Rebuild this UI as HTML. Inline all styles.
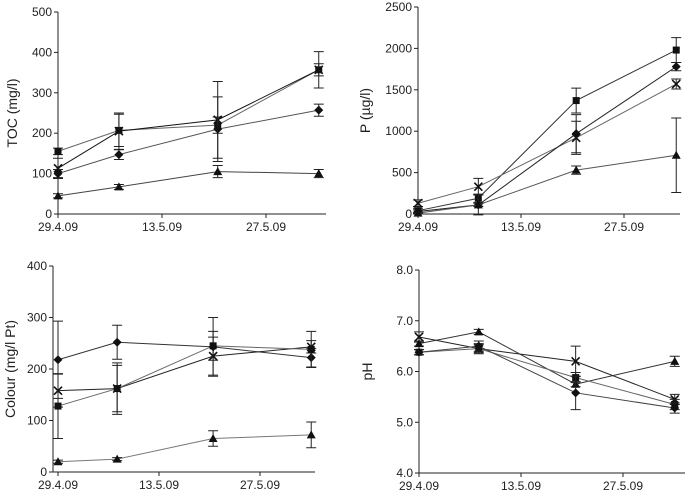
<!DOCTYPE html>
<html><head><meta charset="utf-8">
<style>
html,body{margin:0;padding:0;background:#fff;}
svg{display:block;font-family:"Liberation Sans",Arial,sans-serif;}
</style></head>
<body>
<svg id="chart" width="685" height="498" viewBox="0 0 685 498" xmlns="http://www.w3.org/2000/svg"></svg>
<script>
// shared sampling days (offset from 29.4.09)
const sampleDays = [0, 8.2, 21.5, 35.1];
const xTickLabels = ["29.4.09", "13.5.09", "27.5.09"];
const xTickDays = [0, 14, 28];

// TOC
const tocSquare = [155, 207, 220, 357];
const tocCross = [113, 205, 233, 357];
const tocDiamond = [100, 147, 210, 257];
const tocTriangle = [45, 67, 105, 100];
const tocSquareErr = [8, 40, 20, 45];
const tocCrossErr = [25, 45, 95, 15];
const tocDiamondErr = [10, 12, 80, 15];
const tocTriangleErr = [5, 6, 15, 10];
const tocTicks = [0, 100, 200, 300, 400, 500];

// P
const pSquare = [40, 190, 1370, 1980];
const pCross = [130, 330, 920, 1570];
const pDiamond = [30, 110, 970, 1780];
const pTriangle = [10, 110, 530, 710];
const pSquareErr = [30, 50, 150, 150];
const pCrossErr = [40, 100, 200, 60];
const pDiamondErr = [20, 120, 230, 50];
const pTriangleErr = [10, 20, 50, 450];
const pTicks = [0, 500, 1000, 1500, 2000, 2500];

// Colour
const colDiamond = [218, 252, 243, 222];
const colCross = [158, 162, 225, 243];
const colSquare = [128, 162, 245, 238];
const colTriangle = [20, 25, 65, 72];
const colDiamondErr = [75, 33, 57, 18];
const colCrossErr = [32, 50, 37, 12];
const colSquareErr = [63, 45, 28, 35];
const colTriangleErr = [3, 3, 15, 25];
const colTicks = [0, 100, 200, 300, 400];

// pH
const phCross = [6.68, 6.45, 6.2, 5.45];
const phTriangle = [6.55, 6.78, 5.75, 6.2];
const phSquare = [6.38, 6.45, 5.88, 5.35];
const phDiamond = [6.38, 6.5, 5.58, 5.28];
const phCrossErr = [0.1, 0.1, 0.3, 0.1];
const phTriangleErr = [0.05, 0.05, 0.05, 0.1];
const phSquareErr = [0.05, 0.08, 0.1, 0.1];
const phDiamondErr = [0.05, 0.1, 0.33, 0.1];
const phTicks = [4.0, 5.0, 6.0, 7.0, 8.0];

const svg = document.getElementById('chart');
const NS = 'http://www.w3.org/2000/svg';
function mk(tag, attrs, parent){
  const e = document.createElementNS(NS, tag);
  for (const k in attrs) e.setAttribute(k, attrs[k]);
  (parent || svg).appendChild(e);
  return e;
}

function panel(cfg){
  const g = mk('g', {});
  
  
  const xs = d => cfg.x0 + d * cfg.dayPx;
  const ys = v => cfg.yBot - (v - cfg.yMin) / (cfg.yMax - cfg.yMin) * (cfg.yBot - cfg.yTop);
  // axes
  const ya = mk('line', {x1: cfg.axX, y1: cfg.yTop, x2: cfg.axX, y2: cfg.yBot, stroke: '#222', 'stroke-width': 1}, g);
  
  
  const xa = mk('line', {x1: cfg.axX, y1: cfg.yBot, x2: cfg.xEnd, y2: cfg.yBot, stroke: '#222', 'stroke-width': 1}, g);
  
  
  cfg.ticks.forEach(t => {
    const y = ys(t);
    mk('line', {x1: cfg.axX - 4, y1: y, x2: cfg.axX, y2: y, stroke: '#222'}, g);
    const tx = mk('text', {x: cfg.axX - 6, y: y + 4, 'text-anchor': 'end', 'font-size': 12, fill: '#222'}, g);
    tx.textContent = cfg.dec ? t.toFixed(1) : t;
    
    
  });
  xTickDays.forEach((d, i) => {
    const x = xs(d);
    mk('line', {x1: x, y1: cfg.yBot, x2: x, y2: cfg.yBot + 4, stroke: '#222'}, g);
    const tx = mk('text', {x: x, y: cfg.yBot + 17, 'text-anchor': 'middle', 'font-size': 12, fill: '#222'}, g);
    tx.textContent = xTickLabels[i];
    
    
  });
  const cy = (cfg.yTop + cfg.yBot) / 2;
  const yl = mk('text', {x: cfg.labX, y: cy, 'text-anchor': 'middle', 'font-size': 14, fill: '#222', transform: `rotate(-90 ${cfg.labX} ${cy})`}, g);
  yl.textContent = cfg.label;
  
  

  cfg.series.forEach(s => {
    const sg = mk('g', {}, g);
    
    
    const pts = s.vals.map((v, i) => [xs(sampleDays[i]), ys(v)]);
    mk('polyline', {points: pts.map(p => p.join(',')).join(' '), fill: 'none', stroke: s.color, 'stroke-width': 1}, sg);
    s.vals.forEach((v, i) => {
      const x = pts[i][0], y1 = ys(v + s.err[i]), y2 = ys(v - s.err[i]);
      mk('path', {d: `M${x},${y1}V${y2}M${x-5},${y1}H${x+5}M${x-5},${y2}H${x+5}`, stroke: '#222', 'stroke-width': 1, fill: 'none'}, sg);
    });
    pts.forEach(([x, y]) => {
      let m;
      if (s.marker === 'square') m = mk('rect', {x: x - 3.5, y: y - 3.5, width: 7, height: 7, fill: '#111'}, sg);
      else if (s.marker === 'diamond') m = mk('path', {d: `M${x},${y-4.5}L${x+4.5},${y}L${x},${y+4.5}L${x-4.5},${y}Z`, fill: '#111'}, sg);
      else if (s.marker === 'triangle') m = mk('path', {d: `M${x},${y-4.5}L${x+4.5},${y+3.5}L${x-4.5},${y+3.5}Z`, fill: '#111'}, sg);
      else m = mk('path', {d: `M${x-4},${y-4}L${x+4},${y+4}M${x+4},${y-4}L${x-4},${y+4}`, stroke: '#111', 'stroke-width': 1.6}, sg);
      
      
    });
  });
}

panel({name: 'toc', axX: 58, x0: 58, dayPx: 104/14, xEnd: 326, yTop: 12, yBot: 214, yMin: 0, yMax: 500,
  ticks: tocTicks, label: 'TOC (mg/l)', labX: 17,
  series: [
    {vals: tocSquare, err: tocSquareErr, marker: 'square', color: '#666'},
    {vals: tocCross, err: tocCrossErr, marker: 'cross', color: '#111'},
    {vals: tocDiamond, err: tocDiamondErr, marker: 'diamond', color: '#555'},
    {vals: tocTriangle, err: tocTriangleErr, marker: 'triangle', color: '#444'}]});

panel({name: 'phosphorus', axX: 418, x0: 418, dayPx: 103/14, xEnd: 680, yTop: 7, yBot: 214, yMin: 0, yMax: 2500,
  ticks: pTicks, label: 'P (µg/l)', labX: 370,
  series: [
    {vals: pSquare, err: pSquareErr, marker: 'square', color: '#333'},
    {vals: pCross, err: pCrossErr, marker: 'cross', color: '#666'},
    {vals: pDiamond, err: pDiamondErr, marker: 'diamond', color: '#222'},
    {vals: pTriangle, err: pTriangleErr, marker: 'triangle', color: '#555'}]});

panel({name: 'colour', axX: 53, x0: 58, dayPx: 101/14, xEnd: 315, yTop: 266, yBot: 472, yMin: 0, yMax: 400,
  ticks: colTicks, label: 'Colour (mg/l Pt)', labX: 15,
  series: [
    {vals: colDiamond, err: colDiamondErr, marker: 'diamond', color: '#333'},
    {vals: colCross, err: colCrossErr, marker: 'cross', color: '#222'},
    {vals: colSquare, err: colSquareErr, marker: 'square', color: '#666'},
    {vals: colTriangle, err: colTriangleErr, marker: 'triangle', color: '#777'}]});

panel({name: 'ph', axX: 419, x0: 419, dayPx: 102/14, xEnd: 685, yTop: 270, yBot: 473, yMin: 4, yMax: 8,
  ticks: phTicks, dec: true, label: 'pH', labX: 372,
  series: [
    {vals: phCross, err: phCrossErr, marker: 'cross', color: '#222'},
    {vals: phTriangle, err: phTriangleErr, marker: 'triangle', color: '#333'},
    {vals: phSquare, err: phSquareErr, marker: 'square', color: '#666'},
    {vals: phDiamond, err: phDiamondErr, marker: 'diamond', color: '#444'}]});
</script>
</body></html>
